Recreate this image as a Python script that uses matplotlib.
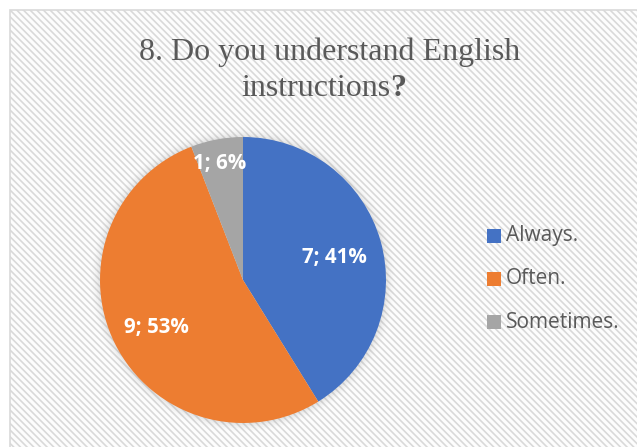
import matplotlib.pyplot as plt
from matplotlib.patches import Rectangle, Circle

labels = ['Always.', 'Often.', 'Sometimes.']
counts = [7, 9, 1]
colors = ['#4472C4', '#ED7D31', '#A5A5A5']

W, H = 637, 447
plt.rcParams['hatch.color'] = '#F0F0F0'
plt.rcParams['hatch.linewidth'] = 1.2
fig = plt.figure(figsize=(W / 100, H / 100), dpi=100)
fig.patch.set_facecolor('white')

# chart area with hatched background
bg = Rectangle((10 / W, -0.05), 1.1, 1.05 - 10 / H, transform=fig.transFigure,
               facecolor='#FDFDFD', edgecolor='#D9D9D9', linewidth=1.2,
               hatch='\\\\\\\\\\', zorder=-5)
fig.patches.append(bg)

# title
tcol = '#595959'
fig.text(330 / W, 1 - 60 / H, '8. Do you understand English', ha='center', va='baseline',
         family='Liberation Serif', fontsize=23, color=tcol)
fig.text(390 / W, 1 - 96 / H, 'instructions', ha='right', va='baseline',
         family='Liberation Serif', fontsize=23, color=tcol)
fig.text(390 / W, 1 - 96 / H, '?', ha='left', va='baseline',
         family='Liberation Serif', fontsize=23, color=tcol, fontweight='bold')

# pie axes: center (243, 280), radius 143 px
r = 143
cx, cy = 243, 280
ax = fig.add_axes([(cx - r * 1.1) / W, 1 - (cy + r * 1.1) / H, 2.2 * r / W, 2.2 * r / H])
ax.set_aspect('equal')
ax.axis('off')
ax.patch.set_alpha(0)

# soft shadow
for i, a in enumerate([0.06, 0.045, 0.03, 0.02, 0.01]):
    ax.add_patch(Circle((0, 0), 1.0 + 0.012 * (i + 1), color='#7F7F7F', alpha=a, zorder=0, lw=0))

total = sum(counts)
wedges, _ = ax.pie(counts, colors=colors, startangle=90, counterclock=False, radius=1.0,
                   wedgeprops=dict(linewidth=0))
ax.set_xlim(-1.1, 1.1)
ax.set_ylim(-1.1, 1.1)

label_pos = [(334, 257), (156, 327), (220, 164)]
for (px, py), c in zip(label_pos, counts):
    pct = round(100 * c / total)
    fig.text(px / W, 1 - py / H, f'{c}; {pct}%', ha='center', va='center',
             color='white', fontweight='bold', fontsize=14.8, family='Open Sans')

# legend
leg_y = [236, 279, 322]
for lab, col, y in zip(labels, colors, leg_y):
    fig.patches.append(Rectangle((487 / W, 1 - (y + 7) / H), 14 / W, 14 / H,
                                 transform=fig.transFigure, facecolor=col, edgecolor='none'))
    fig.text(506 / W, 1 - y / H, lab, ha='left', va='center', color=tcol,
             fontsize=15, family='Open Sans')

fig.savefig('out.png', dpi=100)
